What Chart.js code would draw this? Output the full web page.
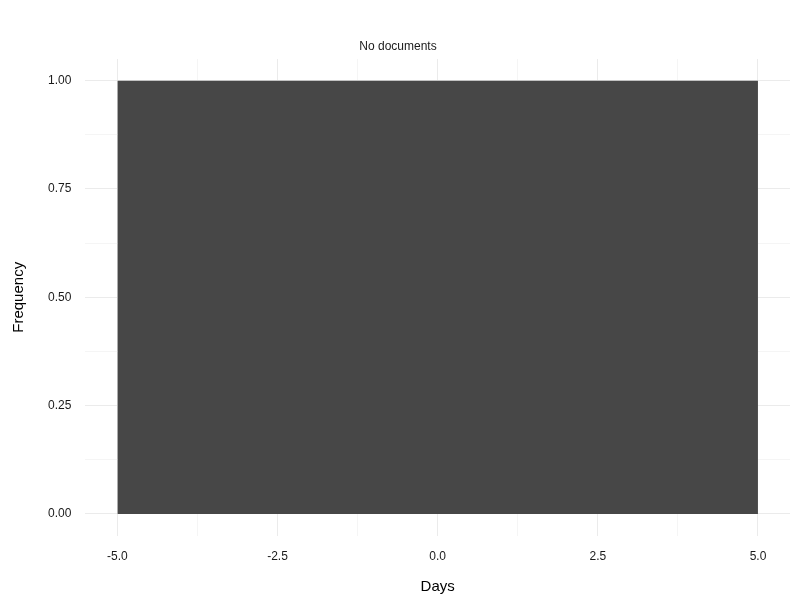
<!DOCTYPE html>
<html><head><meta charset="utf-8">
<script src="https://cdn.jsdelivr.net/npm/chart.js@4"></script>
<style>body{margin:0;background:#fff}#w{width:800px;height:600px}</style>
</head><body><div id="w"><canvas id="c"></canvas></div>
<script>
const binEdges = [-5, 5];
const counts = [1];
const xTicks = [-5, -3.75, -2.5, -1.25, 0, 1.25, 2.5, 3.75, 5];
const yTicks = [0, 0.125, 0.25, 0.375, 0.5, 0.625, 0.75, 0.875, 1];
const titleText = 'Distribution of days that Comptrollerfulfills requests';
const pts = [{x: binEdges[0], y: counts[0]}, {x: binEdges[1], y: counts[0]}];
const isMajor = (v, s) => Math.abs(v / s - Math.round(v / s)) < 1e-9;
const titlePlugin = {id: 'tp', afterDraw(ch) {
  const ctx = ch.ctx; ctx.save();
  ctx.font = '18px "Liberation Sans", Arial'; ctx.fillStyle = '#000'; ctx.textBaseline = 'middle';
  ctx.fillText(titleText, ch.chartArea.left - 2, 17); ctx.restore();
}};
new Chart(document.getElementById('c'), {
  type: 'line',
  data: {datasets: [{data: pts, fill: 'origin', backgroundColor: '#474747', borderWidth: 0, pointRadius: 0, tension: 0}]},
  options: {
    responsive: true, maintainAspectRatio: false, animation: false,
    layout: {padding: {left: 6, right: 10, top: 0, bottom: 4}},
    plugins: {
      legend: {display: false}, tooltip: {enabled: false},
      title: {display: true, text: titleText, align: 'start',
        color: 'rgba(0,0,0,0)', font: {family: 'Liberation Sans, Arial', size: 18, weight: 'normal'}, padding: {top: 6, bottom: 10}},
      subtitle: {display: true, text: 'No documents', color: '#1a1a1a',
        font: {family: 'Liberation Sans, Arial', size: 12}, padding: {top: 2, bottom: 5}}
    },
    scales: {
      x: {type: 'linear', min: -5.5, max: 5.5,
        afterBuildTicks: a => { a.ticks = xTicks.map(v => ({value: v})); },
        grid: {color: c => isMajor(c.tick.value, 2.5) ? '#ebebeb' : '#f5f5f5', drawTicks: false},
        border: {display: false},
        ticks: {color: '#1a1a1a', font: {family: 'Liberation Sans, Arial', size: 12}, padding: 14, maxRotation: 0, autoSkip: false,
          callback: v => isMajor(v, 2.5) ? v.toFixed(1) : ''},
        title: {display: true, text: 'Days', color: '#000', font: {family: 'Liberation Sans, Arial', size: 15}, padding: {top: 0, bottom: 0}}
      },
      y: {min: -0.05, max: 1.05,
        afterBuildTicks: a => { a.ticks = yTicks.map(v => ({value: v})); },
        grid: {color: c => isMajor(c.tick.value, 0.25) ? '#ebebeb' : '#f5f5f5', drawTicks: false},
        border: {display: false},
        ticks: {color: '#1a1a1a', font: {family: 'Liberation Sans, Arial', size: 12}, padding: 14, autoSkip: false,
          callback: v => isMajor(v, 0.25) ? v.toFixed(2) : ''},
        title: {display: true, text: 'Frequency', color: '#000', font: {family: 'Liberation Sans, Arial', size: 15}, padding: {bottom: 6}}
      }
    }
  }
});
</script></body></html>
